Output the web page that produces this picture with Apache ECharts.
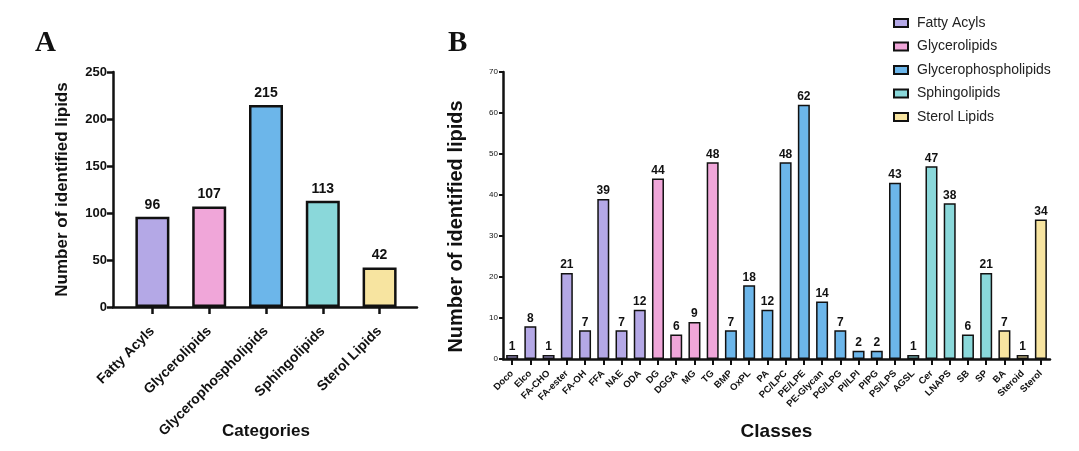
<!DOCTYPE html>
<html lang="en">
<head>
    <meta charset="UTF-8">
    <title>Identified lipids</title>
    <script src="https://cdn.jsdelivr.net/npm/echarts@6/dist/echarts.min.js"></script>
    <style>
        html, body { margin: 0; padding: 0; background: #fff; }
        #main { width: 1079px; height: 451px; }
    </style>
</head>
<body>
<div id="main"></div>
<script>
    // panel A: lipid categories
    var categories = ['Fatty Acyls', 'Glycerolipids', 'Glycerophospholipids', 'Sphingolipids', 'Sterol Lipids'];
    var categoryCounts = [96, 107, 215, 113, 42];
    var categoryColors = ['#b4a8e6', '#f0a6d9', '#6cb6ea', '#8ad8da', '#f7e4a0'];

    // panel B: lipid classes, with the category each one belongs to
    var classes = ['Doco', 'Elco', 'FA-CHO', 'FA-ester', 'FA-OH', 'FFA', 'NAE', 'ODA',
        'DG', 'DGGA', 'MG', 'TG',
        'BMP', 'OxPL', 'PA', 'PC/LPC', 'PE/LPE', 'PE-Glycan', 'PG/LPG', 'PI/LPI', 'PIPG', 'PS/LPS',
        'AGSL', 'Cer', 'LNAPS', 'SB', 'SP',
        'BA', 'Steroid', 'Sterol'];
    var classCounts = [1, 8, 1, 21, 7, 39, 7, 12,
        44, 6, 9, 48,
        7, 18, 12, 48, 62, 14, 7, 2, 2, 43,
        1, 47, 38, 6, 21,
        7, 1, 34];
    var classGroup = [0, 0, 0, 0, 0, 0, 0, 0,
        1, 1, 1, 1,
        2, 2, 2, 2, 2, 2, 2, 2, 2, 2,
        3, 3, 3, 3, 3,
        4, 4, 4];

    var yTicksA = [0, 250, 50];   // min, max, step
    var yTicksB = [0, 70, 10];

    var FONT = 'Liberation Sans, Arial, sans-serif';
    var myChart = echarts.init(document.getElementById('main'));

    // one series per category in panel B so the legend has its five entries
    var seriesB = categories.map(function (name, g) {
        return {
            name: name,
            type: 'bar',
            stack: 'cls',
            xAxisIndex: 2,
            yAxisIndex: 2,
            barWidth: 12,
            itemStyle: { color: categoryColors[g], borderColor: '#111', borderWidth: 1.5 },
            label: {
                show: true, position: 'top', distance: 2,
                fontFamily: FONT, fontWeight: 'bold', fontSize: 12, color: '#111'
            },
            data: classCounts.map(function (v, i) { return classGroup[i] === g ? v : null; })
        };
    });

    var axisLine = { show: true, lineStyle: { color: '#111', width: 2.5 } };

    var option = {
        animation: false,
        backgroundColor: '#fff',
        title: [
            { text: 'A', left: 30, top: 24, textStyle: { fontFamily: 'Liberation Serif, Times New Roman, serif', fontWeight: 'bold', fontSize: 29, color: '#111' } },
            { text: 'B', left: 443, top: 24, textStyle: { fontFamily: 'Liberation Serif, Times New Roman, serif', fontWeight: 'bold', fontSize: 29, color: '#111' } }
        ],
        legend: {
            data: categories,
            orient: 'vertical',
            left: 888,
            top: 11,
            itemWidth: 14,
            itemHeight: 8,
            itemGap: 9.5,
            icon: 'rect',
            textStyle: { fontFamily: FONT, fontSize: 14, color: '#222', padding: [0, 0, 0, 4] }
        },
        grid: [
            { left: 113, top: 72, width: 304, height: 235, outerBoundsMode: 'none' },   // panel A frame (axis lines)
            { left: 124, top: 72, width: 284, height: 235, outerBoundsMode: 'none' },   // panel A bars
            { left: 503, top: 72, width: 547, height: 287, outerBoundsMode: 'none' }    // panel B
        ],
        xAxis: [
            {
                gridIndex: 0, type: 'value', min: 0, max: 1,
                axisLine: axisLine, axisTick: { show: false }, axisLabel: { show: false }, splitLine: { show: false }
            },
            {
                gridIndex: 1, type: 'category', data: categories,
                axisLine: { show: false },
                axisTick: { show: true, alignWithLabel: true, length: 7, lineStyle: { color: '#111', width: 2.5 } },
                axisLabel: {
                    interval: 0, rotate: 45, margin: 22,
                    fontFamily: FONT, fontWeight: 'bold', fontSize: 14, color: '#111'
                },
                name: 'Categories', nameLocation: 'middle', nameGap: 116, nameMoveOverlap: false,
                nameTextStyle: { fontFamily: FONT, fontWeight: 'bold', fontSize: 17, color: '#111' }
            },
            {
                gridIndex: 2, type: 'category', data: classes,
                axisLine: axisLine,
                axisTick: { show: true, alignWithLabel: true, length: 6, lineStyle: { color: '#111', width: 2 } },
                axisLabel: {
                    interval: 0, rotate: 45, margin: 13,
                    fontFamily: FONT, fontWeight: 'bold', fontSize: 9.5, color: '#111'
                },
                name: 'Classes', nameLocation: 'middle', nameGap: 63, nameMoveOverlap: false,
                nameTextStyle: { fontFamily: FONT, fontWeight: 'bold', fontSize: 19, color: '#111' }
            }
        ],
        yAxis: [
            {
                gridIndex: 0, type: 'value', min: yTicksA[0], max: yTicksA[1], interval: yTicksA[2],
                axisLine: axisLine,
                axisTick: { show: true, length: 6, lineStyle: { color: '#111', width: 2.5 } },
                axisLabel: { fontFamily: FONT, fontWeight: 'bold', fontSize: 13, color: '#111', margin: 6 },
                splitLine: { show: false },
                name: 'Number of identified lipids', nameLocation: 'middle', nameGap: 42,
                nameTextStyle: { fontFamily: FONT, fontWeight: 'bold', fontSize: 17, color: '#111' }
            },
            {
                gridIndex: 1, type: 'value', min: yTicksA[0], max: yTicksA[1], interval: yTicksA[2],
                show: false, splitLine: { show: false }
            },
            {
                gridIndex: 2, type: 'value', min: yTicksB[0], max: yTicksB[1], interval: yTicksB[2],
                axisLine: axisLine,
                axisTick: { show: true, length: 4, lineStyle: { color: '#111', width: 2 } },
                axisLabel: { fontFamily: FONT, fontSize: 8, color: '#111', margin: 5 },
                splitLine: { show: false },
                name: 'Number of identified lipids', nameLocation: 'middle', nameGap: 37,
                nameTextStyle: { fontFamily: FONT, fontWeight: 'bold', fontSize: 20, color: '#111', padding: [0, 22, 0, 0] }
            }
        ],
        series: [
            {
                type: 'bar',
                xAxisIndex: 1,
                yAxisIndex: 1,
                barWidth: 34,
                label: {
                    show: true, position: 'top', distance: 5,
                    fontFamily: FONT, fontWeight: 'bold', fontSize: 14, color: '#111'
                },
                data: categoryCounts.map(function (v, i) {
                    return { value: v, itemStyle: { color: categoryColors[i], borderColor: '#111', borderWidth: 2.5 } };
                })
            }
        ].concat(seriesB)
    };
    myChart.setOption(option, true);
</script>
</body>
</html>
